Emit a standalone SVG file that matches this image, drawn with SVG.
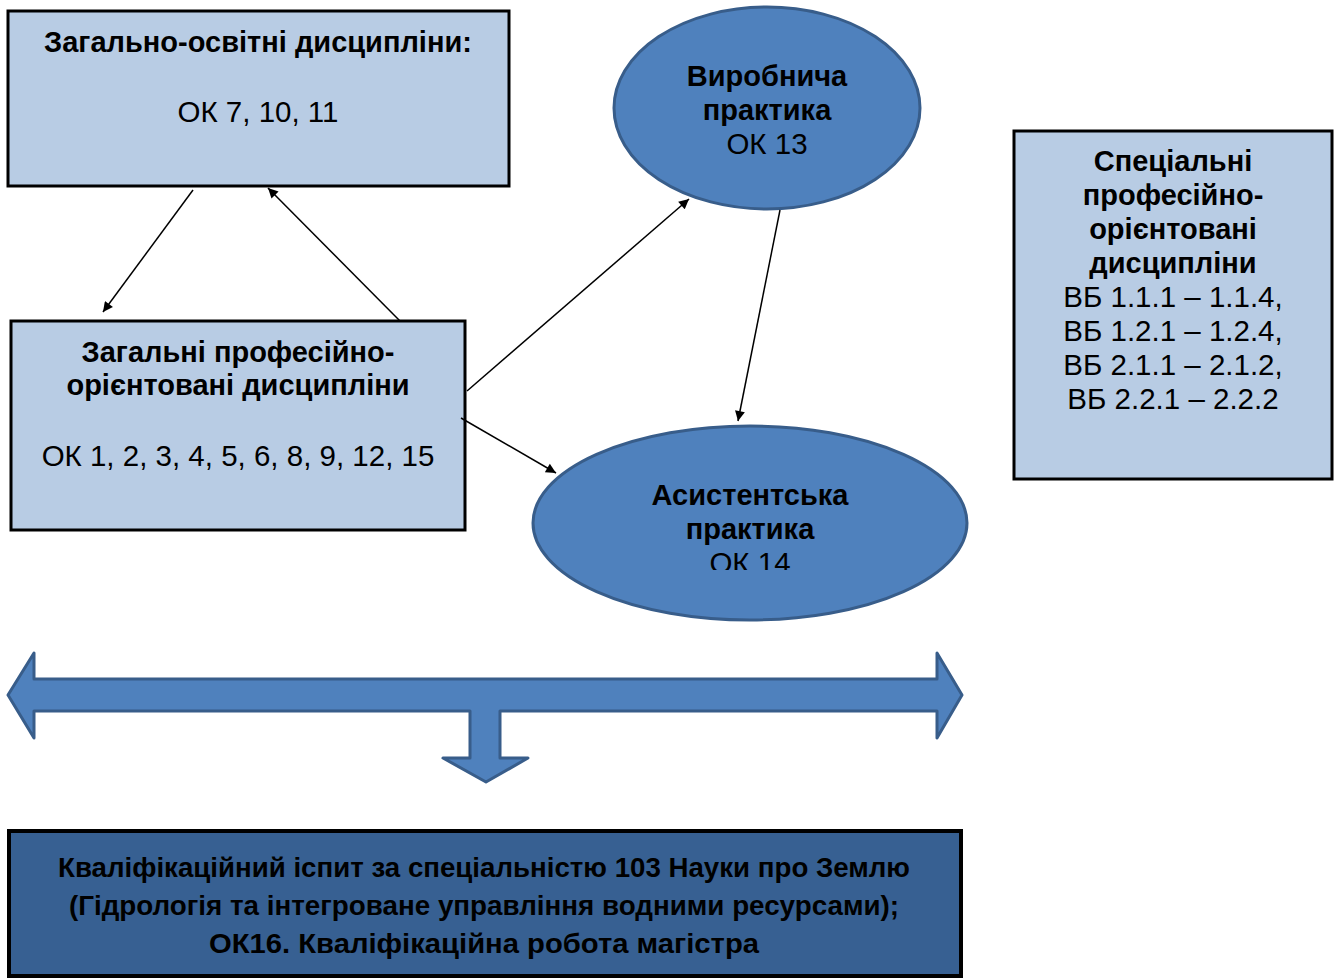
<svg xmlns="http://www.w3.org/2000/svg" width="1338" height="979" viewBox="0 0 1338 979">
<style>
.box{fill:#b8cce4;stroke:#000;stroke-width:3}
.ell{fill:#4f81bd;stroke:#385d8a;stroke-width:3}
.t{font-family:"Liberation Sans",Arial,sans-serif;fill:#000;text-anchor:middle}
.b{font-weight:bold;font-size:29px}
.r{font-size:29.5px}
.c{stroke:#000;stroke-width:1.5;fill:none;marker-end:url(#ah)}
.bt{font-family:"Liberation Sans",Arial,sans-serif;font-weight:bold;font-size:27px;text-anchor:middle;fill:#000}
</style>
<defs>
<marker id="ah" viewBox="0 0 10 10" refX="10" refY="5" markerWidth="12" markerHeight="10" markerUnits="userSpaceOnUse" orient="auto">
<path d="M0,0 L10,5 L0,10 z" fill="#000"/>
</marker>
<clipPath id="clipE2"><rect x="520" y="420" width="460" height="150"/></clipPath>
</defs>
<rect width="1338" height="979" fill="#fff"/>

<g id="node-general-edu">
<rect class="box" x="8" y="11" width="501" height="175"/>
<text class="t b" x="258" y="52">Загально-освітні дисципліни:</text>
<text class="t r" x="258" y="122">ОК 7, 10, 11</text>
</g>

<g id="node-general-prof">
<rect class="box" x="11" y="321" width="454" height="209"/>
<text class="t b" x="238" y="362">Загальні професійно-</text>
<text class="t b" x="238" y="395">орієнтовані дисципліни</text>
<text class="t r" x="238" y="466">ОК 1, 2, 3, 4, 5, 6, 8, 9, 12, 15</text>
</g>

<g id="node-special">
<rect class="box" x="1014" y="131" width="318" height="348"/>
<text class="t b" x="1173" y="171">Спеціальні</text>
<text class="t b" x="1173" y="205">професійно-</text>
<text class="t b" x="1173" y="239">орієнтовані</text>
<text class="t b" x="1173" y="273">дисципліни</text>
<text class="t r" x="1173" y="307">ВБ 1.1.1 – 1.1.4,</text>
<text class="t r" x="1173" y="341">ВБ 1.2.1 – 1.2.4,</text>
<text class="t r" x="1173" y="375">ВБ 2.1.1 – 2.1.2,</text>
<text class="t r" x="1173" y="409">ВБ 2.2.1 – 2.2.2</text>
</g>

<g id="node-production">
<ellipse class="ell" cx="767" cy="108" rx="153" ry="101"/>
<text class="t b" x="767" y="86">Виробнича</text>
<text class="t b" x="767" y="120">практика</text>
<text class="t r" x="767" y="154">ОК 13</text>
</g>

<g id="node-assistant">
<ellipse class="ell" cx="750" cy="523" rx="217" ry="97"/>
<text class="t b" x="750" y="505">Асистентська</text>
<text class="t b" x="750" y="539">практика</text>
<text class="t r" x="750" y="573" clip-path="url(#clipE2)">ОК 14</text>
</g>

<g id="node-bracket-arrow">
<path d="M8,695 L34,653 L34,679 L937,679 L937,653 L962,695 L937,738 L937,711 L500,711 L500,758 L528,758 L486,782 L443,758 L470,758 L470,711 L34,711 L34,738 Z" fill="#4f81bd" stroke="#385d8a" stroke-width="3" stroke-linejoin="round"/>
</g>

<g id="node-final">
<rect x="9" y="831" width="952" height="145" fill="#376092" stroke="#000" stroke-width="4"/>
<text class="bt" x="484" y="877" textLength="852" lengthAdjust="spacingAndGlyphs">Кваліфікаційний іспит за спеціальністю 103 Науки про Землю</text>
<text class="bt" x="484" y="915" textLength="830" lengthAdjust="spacingAndGlyphs">(Гідрологія та інтегроване управління водними ресурсами);</text>
<text class="bt" x="484" y="953" textLength="550" lengthAdjust="spacingAndGlyphs">ОК16. Кваліфікаційна робота магістра</text>
</g>

<g id="connectors">
<line class="c" x1="193" y1="190" x2="103" y2="312"/>
<line class="c" x1="400" y1="321" x2="268" y2="188"/>
<line class="c" x1="467" y1="391" x2="689" y2="199"/>
<line class="c" x1="461" y1="418" x2="556" y2="473"/>
<line class="c" x1="780" y1="210" x2="738" y2="421"/>
</g>
</svg>
